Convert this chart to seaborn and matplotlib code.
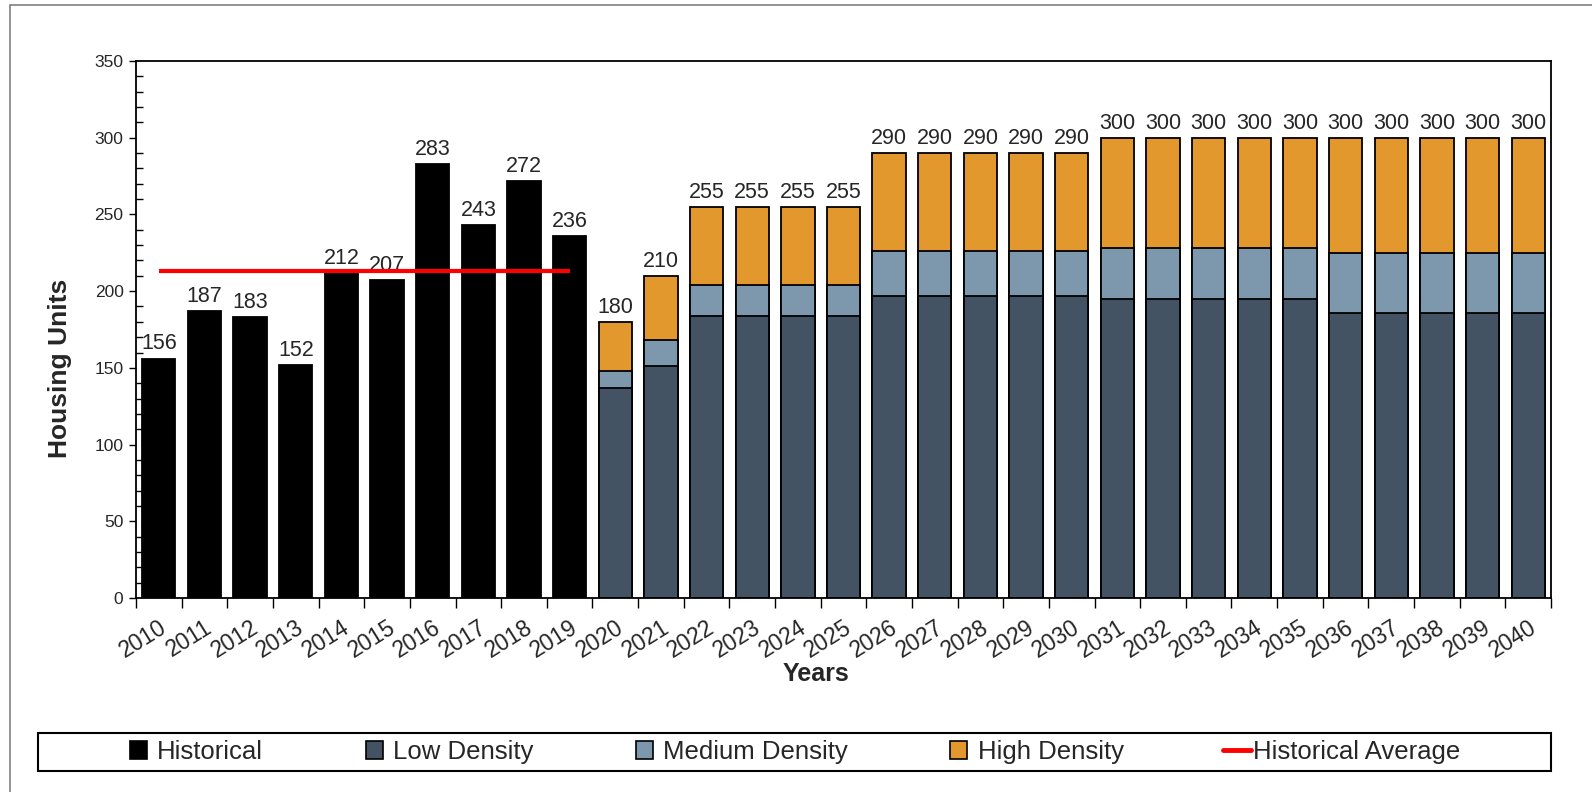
import numpy as np
import pandas as pd
import seaborn as sns
import matplotlib
matplotlib.use("Agg")
import matplotlib.pyplot as plt
import matplotlib.patches as mpatches
from matplotlib.lines import Line2D
from matplotlib.legend_handler import HandlerPatch
from matplotlib.ticker import MultipleLocator
from matplotlib.transforms import ScaledTranslation

# ---- data -------------------------------------------------------------
years = [str(y) for y in range(2010, 2041)]

hist_years = ["2010", "2011", "2012", "2013", "2014", "2015", "2016", "2017", "2018", "2019"]
hist_units = [156, 187, 183, 152, 212, 207, 283, 243, 272, 236]

proj_years = ["2020", "2021", "2022", "2023", "2024", "2025", "2026", "2027", "2028", "2029",
              "2030", "2031", "2032", "2033", "2034", "2035", "2036", "2037", "2038", "2039", "2040"]
low_density = [137, 151, 183.6, 183.6, 183.6, 183.6, 197, 197, 197, 197,
               197, 195, 195, 195, 195, 195, 186, 186, 186, 186, 186]
medium_density = [11, 17, 20.4, 20.4, 20.4, 20.4, 29, 29, 29, 29,
                  29, 33, 33, 33, 33, 33, 39, 39, 39, 39, 39]
high_density = [32, 42, 51, 51, 51, 51, 64, 64, 64, 64,
                64, 72, 72, 72, 72, 72, 75, 75, 75, 75, 75]

# ---- style ------------------------------------------------------------
LOW_C = "#435364"
MED_C = "#7D98AC"
HIGH_C = "#E3982E"
HIST_C = "#000000"
AVG_C = "#FF0000"

sns.set_style("white")
plt.rcParams["font.family"] = ["Liberation Sans", "DejaVu Sans"]

fig = plt.figure(figsize=(15.92, 7.92), dpi=100)
ax = fig.add_axes([136 / 1592, 1 - 598 / 792, (1551 - 136) / 1592, (598 - 61) / 792])

hist_df = pd.DataFrame({"year": hist_years, "units": hist_units})
proj_df = pd.DataFrame({"year": proj_years, "low": low_density,
                        "medium": medium_density, "high": high_density})
proj_df["low_med"] = proj_df["low"] + proj_df["medium"]
proj_df["total"] = proj_df["low_med"] + proj_df["high"]

bar_kw = dict(order=years, errorbar=None, width=0.73, saturation=1,
              edgecolor="black", linewidth=1.3, ax=ax)

# stacked projections drawn back to front
sns.barplot(data=proj_df, x="year", y="total", color=HIGH_C, **bar_kw)
sns.barplot(data=proj_df, x="year", y="low_med", color=MED_C, **bar_kw)
sns.barplot(data=proj_df, x="year", y="low", color=LOW_C, **bar_kw)
sns.barplot(data=hist_df, x="year", y="units", color=HIST_C, **bar_kw)

# historical average line across the historical years
avg = float(np.mean(hist_units))
x0 = years.index(hist_years[0])
x1 = years.index(hist_years[-1])
ax.plot([x0, x1], [avg, avg], color=AVG_C, lw=3, solid_capstyle="butt", zorder=5)

# value labels
for yr, v in zip(hist_years, hist_units):
    ax.annotate(f"{v:.0f}", (years.index(yr), v), xytext=(0, 3),
                textcoords="offset points", ha="center", va="bottom", fontsize=15.5)
for yr, v in zip(proj_df["year"], proj_df["total"]):
    ax.annotate(f"{v:.0f}", (years.index(yr), v), xytext=(0, 3),
                textcoords="offset points", ha="center", va="bottom", fontsize=15.5)

# axes
ax.set_xlim(-0.5, len(years) - 0.5)
ax.set_ylim(0, 350)
ax.yaxis.set_major_locator(MultipleLocator(50))
ax.yaxis.set_minor_locator(MultipleLocator(10))
ax.tick_params(axis="y", which="major", direction="out", length=5, width=1,
               labelsize=12.5, left=True, pad=4, color="black")
ax.tick_params(axis="y", which="minor", direction="in", length=5, width=1,
               left=True, color="black")

ax.set_xticks(range(len(years)))
ax.set_xticklabels(years, rotation=32, ha="right", va="top", rotation_mode="anchor")
shift = ScaledTranslation(4 / 100, 0, fig.dpi_scale_trans)
for lab in ax.get_xticklabels():
    lab.set_transform(lab.get_transform() + shift)
ax.set_xticks(np.arange(-0.5, len(years), 1.0), minor=True)
ax.tick_params(axis="x", which="major", length=0, labelsize=16.5, pad=13)
ax.tick_params(axis="x", which="minor", direction="out", length=7, width=1,
               bottom=True, color="black")

for sp in ax.spines.values():
    sp.set_color("black")
    sp.set_linewidth(1.3)

ax.set_xlabel("Years", fontsize=18, fontweight="bold")
ax.set_ylabel("Housing Units", fontsize=19, fontweight="bold")
ax.xaxis.set_label_coords((816 - 136) / 1415, -(662 - 598) / 537)
ax.yaxis.set_label_coords(-(136 - 72) / 1415, (598 - 368) / 537)


# legend with small square swatches
class SquareHandler(HandlerPatch):
    def create_artists(self, legend, orig_handle, xdescent, ydescent,
                       width, height, fontsize, trans):
        s = height
        x = -xdescent + width - s - 0.3 * fontsize
        p = mpatches.Rectangle((x, -ydescent), s, s,
                               facecolor=orig_handle.get_facecolor(),
                               edgecolor="black", lw=1.2, transform=trans)
        return [p]


handles = [
    mpatches.Patch(facecolor=HIST_C),
    mpatches.Patch(facecolor=LOW_C),
    mpatches.Patch(facecolor=MED_C),
    mpatches.Patch(facecolor=HIGH_C),
    Line2D([], [], color=AVG_C, lw=3.5),
]
labels = ["Historical", "Low Density", "Medium Density", "High Density", "Historical Average"]
sq = SquareHandler()
fig.legend(handles, labels, loc="center", bbox_to_anchor=(0.4985, 1 - 752 / 792),
           ncol=5, frameon=False, fontsize=18.5, handlelength=1.1, handleheight=0.65,
           handletextpad=0.1, columnspacing=3.85,
           handler_map={h: sq for h in handles[:4]})

fig.patches.append(mpatches.Rectangle((38 / 1592, (792 - 771) / 792),
                                      (1551 - 38) / 1592, (771 - 733) / 792,
                                      transform=fig.transFigure, fill=False,
                                      edgecolor="black", lw=1.5))
# outer chart border
fig.patches.append(mpatches.Rectangle((10 / 1592, -0.1), 1.2, 1.1 - 5 / 792,
                                      transform=fig.transFigure, fill=False,
                                      edgecolor="#808080", lw=1.2))

fig.savefig("out.png", dpi=100)
